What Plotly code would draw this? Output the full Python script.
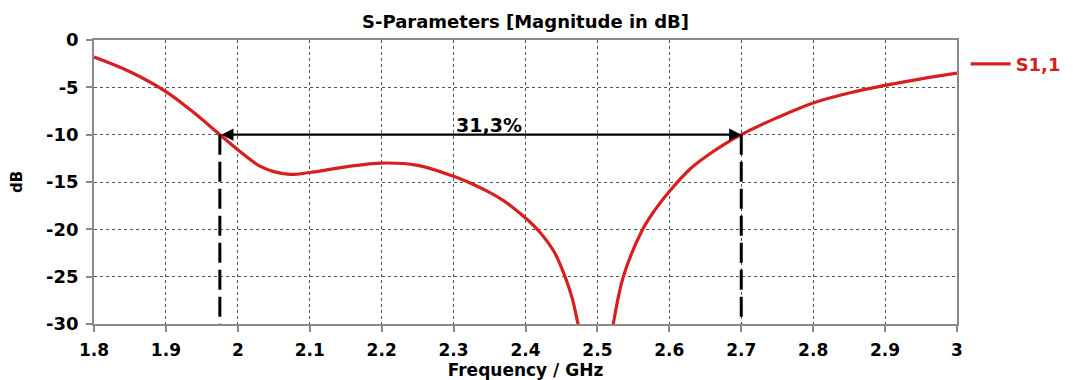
import plotly.graph_objects as go

# ---- data ----
freq_ghz = [1.8, 1.85, 1.9, 1.94, 1.975, 2.0, 2.03, 2.05, 2.073, 2.1, 2.15, 2.2,
            2.25, 2.3, 2.32, 2.35, 2.37, 2.385, 2.4, 2.42, 2.44, 2.455, 2.465, 2.473,
            2.485, 2.497, 2.51, 2.522, 2.536, 2.563, 2.58, 2.6, 2.63, 2.653, 2.678, 2.7,
            2.75, 2.8, 2.85, 2.9, 2.95, 3.0]
s11_db = [-1.8, -3.35, -5.45, -7.75, -10.0, -11.6, -13.3, -13.9, -14.2, -14.0, -13.4, -13.0,
          -13.25, -14.4, -15.0, -16.1, -17.0, -17.85, -18.8, -20.3, -22.4, -25.0, -27.3, -30.0,
          -34.5, -41.0, -35.5, -30.0, -25.0, -20.0, -17.95, -16.0, -13.55, -12.2, -10.95, -10.0,
          -8.2, -6.65, -5.6, -4.8, -4.1, -3.5]
series_name = "S1,1"

band_edges_ghz = [1.975, 2.7]
band_level_db = -10
band_label = "31,3%"
band_label_freq = 2.349

x_ticks = [1.8, 1.9, 2.0, 2.1, 2.2, 2.3, 2.4, 2.5, 2.6, 2.7, 2.8, 2.9, 3.0]
x_tick_text = ["1.8", "1.9", "2", "2.1", "2.2", "2.3", "2.4", "2.5", "2.6", "2.7", "2.8", "2.9", "3"]
y_ticks = [0, -5, -10, -15, -20, -25, -30]
y_tick_text = ["0", "-5", "-10", "-15", "-20", "-25", "-30"]

title_text = "S-Parameters [Magnitude in dB]"
x_title = "Frequency / GHz"
y_title = "dB"

RED = "#d81e1e"
FONT = "DejaVu Sans"

fig = go.Figure()
fig.add_trace(go.Scatter(
    x=freq_ghz, y=s11_db, mode="lines", name=series_name,
    line=dict(color=RED, width=3.2, shape="spline", smoothing=1.0),
))

# vertical dashed markers at band edges
for f in band_edges_ghz:
    fig.add_shape(type="line", x0=f, x1=f, y0=band_level_db, y1=y_ticks[-1],
                  xref="x", yref="y", line=dict(color="black", width=3, dash="20px,7px"))

# double-headed arrow
fig.add_annotation(x=band_edges_ghz[1], y=band_level_db, ax=band_edges_ghz[0], ay=band_level_db,
                   xref="x", yref="y", axref="x", ayref="y", text="", showarrow=True,
                   arrowhead=2, arrowsize=1.1, arrowwidth=2.2, arrowcolor="black",
                   arrowside="end+start", startarrowhead=2, startarrowsize=1.1)
fig.add_annotation(x=band_label_freq, y=band_level_db, text=band_label,
                   showarrow=False, yanchor="bottom", yshift=-3,
                   font=dict(family=FONT, size=19, color="black", weight="bold"))

axis_common = dict(
    showline=True, linecolor="#8a8a8a", linewidth=1.5, mirror=True,
    ticks="outside", ticklen=6, tickcolor="#8a8a8a", tickwidth=1.5,
    showgrid=True, gridcolor="#555555", gridwidth=1,
    zeroline=False, automargin=False,
)

fig.update_xaxes(range=[1.8, 3.0], tickvals=x_ticks, ticktext=x_tick_text, griddash="dot",
                 ticklabelstandoff=4,
                 tickfont=dict(family=FONT, size=17, color="black", weight="bold"),
                 title=dict(text=x_title, font=dict(family=FONT, size=17, color="black", weight="bold"),
                            standoff=5),
                 **axis_common)
fig.update_yaxes(range=[-30, 0], tickvals=y_ticks, ticktext=y_tick_text, griddash="3px,3px",
                 ticklabelstandoff=4,
                 tickfont=dict(family=FONT, size=18, color="black", weight="bold"),
                 title=dict(text=y_title, font=dict(family=FONT, size=15, color="black", weight="bold"),
                            standoff=27),
                 **axis_common)

fig.update_layout(
    width=1065, height=372,
    margin=dict(l=86, r=116, t=32, b=56, pad=0, autoexpand=False),
    paper_bgcolor="white", plot_bgcolor="white",
    title=dict(text=title_text, x=0.5, xref="paper", xanchor="center",
               y=1 - 14 / 372, yanchor="middle",
               font=dict(family=FONT, size=18, color="black", weight="bold")),
    showlegend=True,
    legend=dict(x=1.01, xanchor="left", y=0.915, yanchor="middle", bgcolor="rgba(0,0,0,0)",
                font=dict(family=FONT, size=18, color=RED, weight="bold"),
                itemwidth=40),
)

fig.write_html("out.html")
